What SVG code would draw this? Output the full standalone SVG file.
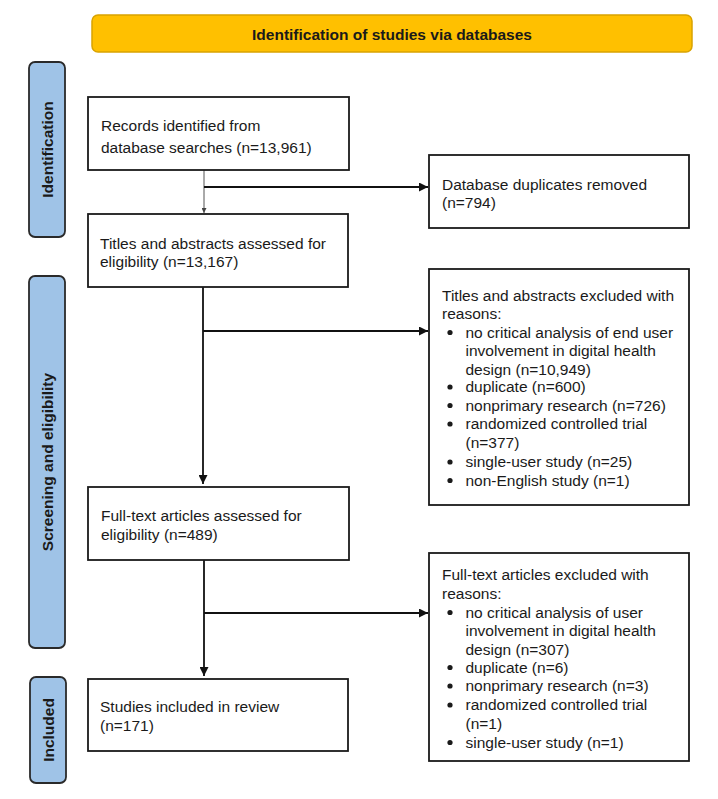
<svg xmlns="http://www.w3.org/2000/svg" width="718" height="799" viewBox="0 0 718 799">
<defs>
<style>
.box{fill:#fff;stroke:#1a1a1a;stroke-width:1.8}
.lane{fill:#9fc3e7;stroke:#2a2a2a;stroke-width:1.8}
.t{font-family:"Liberation Sans",Arial,sans-serif;font-size:15.5px;fill:#1a1a1a}
.lt{font-family:"Liberation Sans",Arial,sans-serif;font-size:15.5px;font-weight:bold;fill:#1a1a1a;text-anchor:middle}
.ln{fill:none;stroke:#111;stroke-width:1.8}
.thin{fill:none;stroke:#555;stroke-width:1}
.dot{fill:#1a1a1a}
</style>
<marker id="ah" viewBox="0 0 10 10" refX="10" refY="5" markerWidth="5" markerHeight="5" orient="auto" markerUnits="strokeWidth">
<path d="M0,0 L10,5 L0,10 z" fill="#111"/>
</marker>
<marker id="ahs" viewBox="0 0 10 10" refX="10" refY="5" markerWidth="7" markerHeight="5" orient="auto" markerUnits="strokeWidth">
<path d="M0,0 L10,5 L0,10 z" fill="#444"/>
</marker>
</defs>
<rect width="718" height="799" fill="#fff"/>

<g id="header">
<rect x="92" y="15" width="600" height="37" rx="6" fill="#ffc000" stroke="#d9a300" stroke-width="1.5"/>
<text class="lt" x="392" y="39.5">Identification of studies via databases</text>
</g>

<g id="lane-identification">
<rect class="lane" x="29" y="62" width="36" height="175" rx="6"/>
<text class="lt" transform="translate(52.5,149.5) rotate(-90)">Identification</text>
</g>
<g id="lane-screening">
<rect class="lane" x="29" y="276" width="36" height="372" rx="6"/>
<text class="lt" transform="translate(52.5,462) rotate(-90)">Screening and eligibility</text>
</g>
<g id="lane-included">
<rect class="lane" x="30" y="677" width="36" height="106" rx="6"/>
<text class="lt" transform="translate(53.5,730) rotate(-90)">Included</text>
</g>

<g id="connectors">
<line class="thin" x1="204" y1="170" x2="204" y2="213" marker-end="url(#ahs)"/>
<line class="ln" x1="204" y1="187" x2="428" y2="187" marker-end="url(#ah)"/>
<line class="ln" x1="203" y1="287" x2="203" y2="484" marker-end="url(#ah)"/>
<line class="ln" x1="203" y1="331" x2="428" y2="331" marker-end="url(#ah)"/>
<line class="ln" x1="204" y1="560" x2="204" y2="676" marker-end="url(#ah)"/>
<line class="ln" x1="204" y1="613" x2="428" y2="613" marker-end="url(#ah)"/>
</g>

<g id="records">
<rect class="box" x="88" y="97" width="261" height="73"/>
<text class="t" x="101" y="130.5">Records identified from</text>
<text class="t" x="101" y="152.5">database searches (n=13,961)</text>
</g>

<g id="duplicates">
<rect class="box" x="429" y="155" width="260" height="73"/>
<text class="t" x="442" y="189.5">Database duplicates removed</text>
<text class="t" x="442" y="207.5">(n=794)</text>
</g>

<g id="titles-assessed">
<rect class="box" x="88" y="214" width="260" height="73"/>
<text class="t" x="100" y="248.5">Titles and abstracts assessed for</text>
<text class="t" x="100" y="267">eligibility (n=13,167)</text>
</g>

<g id="titles-excluded">
<rect class="box" x="429" y="269" width="260" height="236"/>
<text class="t" x="442" y="300.5">Titles and abstracts excluded with</text>
<text class="t" x="442" y="319">reasons:</text>
<circle class="dot" cx="450" cy="332.5" r="2.6"/>
<text class="t" x="465.5" y="337.5">no critical analysis of end user</text>
<text class="t" x="465.5" y="356">involvement in digital health</text>
<text class="t" x="465.5" y="374.5">design (n=10,949)</text>
<circle class="dot" cx="450" cy="387" r="2.6"/>
<text class="t" x="465.5" y="392">duplicate (n=600)</text>
<circle class="dot" cx="450" cy="405.5" r="2.6"/>
<text class="t" x="465.5" y="410.5">nonprimary research (n=726)</text>
<circle class="dot" cx="450" cy="424" r="2.6"/>
<text class="t" x="465.5" y="429">randomized controlled trial</text>
<text class="t" x="465.5" y="448">(n=377)</text>
<circle class="dot" cx="450" cy="462" r="2.6"/>
<text class="t" x="465.5" y="467">single-user study (n=25)</text>
<circle class="dot" cx="450" cy="480.5" r="2.6"/>
<text class="t" x="465.5" y="485.5">non-English study (n=1)</text>
</g>

<g id="fulltext-assessed">
<rect class="box" x="88" y="487" width="261" height="73"/>
<text class="t" x="101" y="521">Full-text articles assessed for</text>
<text class="t" x="101" y="539.5">eligibility (n=489)</text>
</g>

<g id="fulltext-excluded">
<rect class="box" x="429" y="553" width="260" height="208"/>
<text class="t" x="442" y="579.5">Full-text articles excluded with</text>
<text class="t" x="442" y="598.5">reasons:</text>
<circle class="dot" cx="450" cy="612.5" r="2.6"/>
<text class="t" x="465.5" y="617.5">no critical analysis of user</text>
<text class="t" x="465.5" y="636">involvement in digital health</text>
<text class="t" x="465.5" y="654.5">design (n=307)</text>
<circle class="dot" cx="450" cy="667.5" r="2.6"/>
<text class="t" x="465.5" y="672.5">duplicate (n=6)</text>
<circle class="dot" cx="450" cy="686" r="2.6"/>
<text class="t" x="465.5" y="691">nonprimary research (n=3)</text>
<circle class="dot" cx="450" cy="705" r="2.6"/>
<text class="t" x="465.5" y="710">randomized controlled trial</text>
<text class="t" x="465.5" y="728.5">(n=1)</text>
<circle class="dot" cx="450" cy="742.5" r="2.6"/>
<text class="t" x="465.5" y="747.5">single-user study (n=1)</text>
</g>

<g id="included">
<rect class="box" x="88" y="679" width="260" height="72"/>
<text class="t" x="100" y="712">Studies included in review</text>
<text class="t" x="100" y="730.5">(n=171)</text>
</g>
</svg>
